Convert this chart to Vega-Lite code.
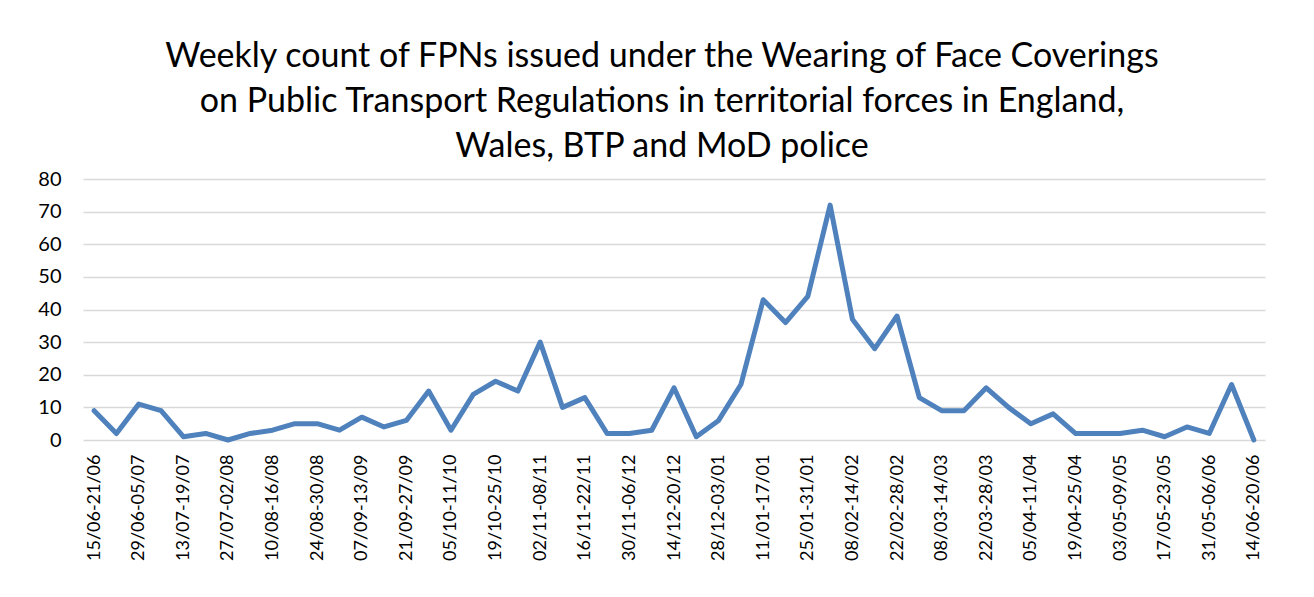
{
  "$schema": "https://vega.github.io/schema/vega-lite/v6.json",
  "autosize": "none",
  "width": 1182,
  "height": 261,
  "padding": {"left": 83, "top": 179, "right": 49, "bottom": 157},
  "background": "white",
  "title": {
    "text": ["Weekly count of FPNs issued under the Wearing of Face Coverings", "on Public Transport Regulations in territorial forces in England,", "Wales, BTP and MoD police"],
    "font": "Lato",
    "fontSize": 34,
    "fontWeight": "normal",
    "lineHeight": 45,
    "color": "#000000",
    "anchor": "middle",
    "dx": -12,
    "offset": 5
  },
  "data": {"values": [
    {"week": "15/06-21/06", "n": 9},
    {"week": "22/06-28/06", "n": 2},
    {"week": "29/06-05/07", "n": 11},
    {"week": "06/07-12/07", "n": 9},
    {"week": "13/07-19/07", "n": 1},
    {"week": "20/07-26/07", "n": 2},
    {"week": "27/07-02/08", "n": 0},
    {"week": "03/08-09/08", "n": 2},
    {"week": "10/08-16/08", "n": 3},
    {"week": "17/08-23/08", "n": 5},
    {"week": "24/08-30/08", "n": 5},
    {"week": "31/08-06/09", "n": 3},
    {"week": "07/09-13/09", "n": 7},
    {"week": "14/09-20/09", "n": 4},
    {"week": "21/09-27/09", "n": 6},
    {"week": "28/09-04/10", "n": 15},
    {"week": "05/10-11/10", "n": 3},
    {"week": "12/10-18/10", "n": 14},
    {"week": "19/10-25/10", "n": 18},
    {"week": "26/10-01/11", "n": 15},
    {"week": "02/11-08/11", "n": 30},
    {"week": "09/11-15/11", "n": 10},
    {"week": "16/11-22/11", "n": 13},
    {"week": "23/11-29/11", "n": 2},
    {"week": "30/11-06/12", "n": 2},
    {"week": "07/12-13/12", "n": 3},
    {"week": "14/12-20/12", "n": 16},
    {"week": "21/12-27/12", "n": 1},
    {"week": "28/12-03/01", "n": 6},
    {"week": "04/01-10/01", "n": 17},
    {"week": "11/01-17/01", "n": 43},
    {"week": "18/01-24/01", "n": 36},
    {"week": "25/01-31/01", "n": 44},
    {"week": "01/02-07/02", "n": 72},
    {"week": "08/02-14/02", "n": 37},
    {"week": "15/02-21/02", "n": 28},
    {"week": "22/02-28/02", "n": 38},
    {"week": "01/03-07/03", "n": 13},
    {"week": "08/03-14/03", "n": 9},
    {"week": "15/03-21/03", "n": 9},
    {"week": "22/03-28/03", "n": 16},
    {"week": "29/03-04/04", "n": 10},
    {"week": "05/04-11/04", "n": 5},
    {"week": "12/04-18/04", "n": 8},
    {"week": "19/04-25/04", "n": 2},
    {"week": "26/04-02/05", "n": 2},
    {"week": "03/05-09/05", "n": 2},
    {"week": "10/05-16/05", "n": 3},
    {"week": "17/05-23/05", "n": 1},
    {"week": "24/05-30/05", "n": 4},
    {"week": "31/05-06/06", "n": 2},
    {"week": "07/06-13/06", "n": 17},
    {"week": "14/06-20/06", "n": 0}
  ]},
  "mark": {"type": "line", "color": "#4f81bd", "strokeWidth": 5, "strokeJoin": "round", "strokeCap": "round"},
  "encoding": {
    "x": {
      "field": "week",
      "type": "ordinal",
      "sort": null,
      "scale": {"type": "point", "padding": 0.5},
      "axis": {
        "title": null,
        "values": ["15/06-21/06", "29/06-05/07", "13/07-19/07", "27/07-02/08", "10/08-16/08", "24/08-30/08", "07/09-13/09", "21/09-27/09", "05/10-11/10", "19/10-25/10", "02/11-08/11", "16/11-22/11", "30/11-06/12", "14/12-20/12", "28/12-03/01", "11/01-17/01", "25/01-31/01", "08/02-14/02", "22/02-28/02", "08/03-14/03", "22/03-28/03", "05/04-11/04", "19/04-25/04", "03/05-09/05", "17/05-23/05", "31/05-06/06", "14/06-20/06"],
        "labelAngle": -90,
        "labelAlign": "right",
        "labelBaseline": "middle",
        "labelFont": "Lato",
        "labelFontSize": 18,
        "labelColor": "#000000",
        "labelPadding": 14,
        "labelOverlap": false,
        "ticks": false,
        "domain": false,
        "grid": false
      }
    },
    "y": {
      "field": "n",
      "type": "quantitative",
      "scale": {"domain": [0, 80], "nice": false},
      "axis": {
        "title": null,
        "values": [0, 10, 20, 30, 40, 50, 60, 70, 80],
        "labelFont": "Lato",
        "labelFontSize": 20,
        "labelColor": "#000000",
        "labelPadding": 22,
        "ticks": false,
        "domain": false,
        "grid": true,
        "gridColor": "#d9d9d9",
        "gridWidth": 1.5
      }
    }
  },
  "config": {"view": {"stroke": null}}
}
